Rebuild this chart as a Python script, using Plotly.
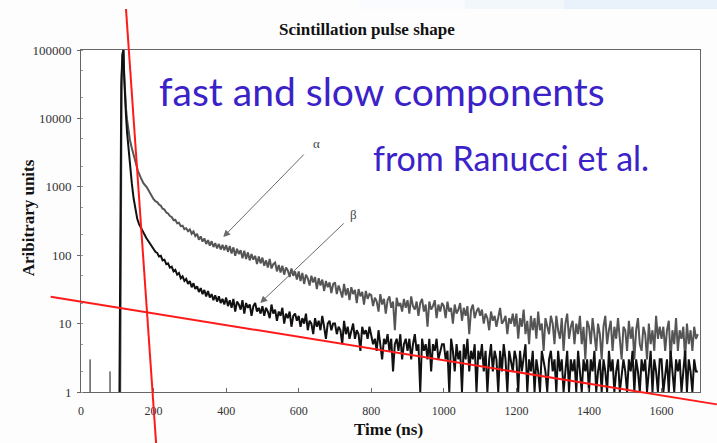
import math
import plotly.graph_objects as go

# ---------------- data ----------------
# time axis in ns, values in arbitrary units (log scale)
PRE_SPIKE_T = [25, 80]
PRE_SPIKE_V = [3, 2]

ALPHA_EARLY_T = [108, 112, 115, 117, 119, 121, 124, 127, 131, 135, 140, 145, 150, 157, 165, 172, 181, 190, 195]
ALPHA_EARLY_V = [1, 40000, 90000, 100000, 45000, 24000, 14000, 9500, 6500, 4800, 3700, 2900, 2300, 1700,
                 1350, 1130, 990, 800, 720]

BETA_EARLY_T = [106, 111, 114, 117, 119, 121, 124, 127, 131, 135, 140, 145, 150, 155, 160, 165, 172, 180, 190, 195]
BETA_EARLY_V = [1, 30000, 85000, 100000, 40000, 19000, 11000, 6200, 3400, 2100, 1130, 680, 440, 340,
                285, 250, 210, 178, 148, 134]

TAIL_T = list(range(200, 1701, 5))

ALPHA_TAIL = [
    660, 615, 598, 552, 528, 478, 466, 421, 408, 374, 362, 326, 328, 292, 298, 266, 270, 240, 248, 224,
    238, 206, 222, 190, 205, 168, 188, 158, 176, 146, 166, 138, 160, 132, 150, 126, 146, 121, 142, 118,
    140, 112, 136, 106, 130, 98, 124, 104, 118, 90, 116, 88, 110, 84, 104, 86, 98, 74, 96, 76,
    92, 70, 84, 66, 88, 64, 74, 78, 58, 72, 56, 70, 52, 66, 60, 48, 64, 50, 58, 44,
    58, 42, 55, 38, 52, 46, 36, 50, 40, 48, 32, 46, 36, 44, 30, 42, 34, 40, 28, 38,
    40, 27, 36, 30, 24, 38, 26, 33, 22, 34, 27, 31, 20, 32, 25, 29, 19, 30, 23, 27,
    26, 18, 24, 21, 15, 27, 19, 23, 14, 22, 25, 17, 21, 8, 24, 18, 20, 15, 23, 17,
    22, 14, 25, 18, 16, 21, 13, 20, 23, 15, 19, 9, 21, 16, 18, 22, 12, 19, 15, 20,
    18, 12, 21, 15, 17, 10, 19, 14, 16, 20, 11, 17, 13, 18, 7, 16, 19, 12, 15, 17,
    13, 16, 10, 14, 12, 8, 15, 11, 13, 9, 12, 17, 10, 11, 13, 7, 12, 10, 14, 9,
    14, 6, 12, 9, 16, 7, 11, 5, 13, 8, 12, 6, 15, 8, 10, 4, 12, 9, 7, 13,
    10, 5, 13, 8, 6, 12, 4, 10, 14, 6, 9, 11, 5, 10, 7, 13, 5, 9, 3, 11,
    9, 5, 12, 7, 4, 10, 7, 3, 9, 13, 5, 8, 11, 4, 9, 6, 12, 6, 3, 9,
    8, 4, 11, 6, 9, 3, 8, 12, 5, 4, 9, 7, 3, 10, 5, 8, 4, 13, 6, 9,
    6, 9, 4, 8, 11, 3, 8, 5, 12, 4, 8, 6, 9, 3, 10, 5, 8, 4, 9, 6,
    7,
]

BETA_TAIL = [
    124, 112, 108, 96, 98, 84, 86, 74, 76, 66, 68, 58, 61, 52, 55, 46, 49, 42, 45, 38,
    42, 34, 39, 32, 35, 29, 33, 27, 31, 25, 30, 24, 27, 22, 26, 21, 25, 20, 23, 19,
    24, 18, 22, 17, 23, 15, 21, 19, 16, 22, 14, 20, 17, 19, 13, 18, 20, 15, 17, 14,
    18, 13, 17, 15, 12, 19, 14, 16, 11, 15, 13, 17, 10, 14, 12, 15, 9, 13, 14, 11,
    13, 9, 12, 10, 14, 8, 11, 10, 7, 12, 9, 11, 8, 13, 9, 6, 10, 11, 8, 10,
    10, 7, 9, 8, 5, 11, 7, 9, 6, 8, 10, 6, 8, 7, 4, 9, 7, 8, 6, 9,
    7, 5, 6, 4, 8, 5, 3, 6, 5, 7, 4, 6, 2, 5, 6, 4, 7, 3, 5, 6,
    4, 6, 3, 5, 7, 4, 5, 1, 6, 4, 5, 3, 6, 2, 5, 4, 6, 3, 4, 5,
    5, 3, 4, 1, 6, 4, 2, 5, 3, 4, 1, 5, 3, 6, 2, 4, 3, 5, 1, 4,
    3, 5, 2, 4, 1, 3, 5, 2, 4, 3, 1, 4, 2, 5, 3, 1, 4, 3, 2, 4,
    3, 1, 4, 2, 3, 5, 1, 3, 2, 4, 1, 3, 2, 1, 4, 3, 2, 1, 3, 4,
    2, 3, 1, 4, 2, 3, 1, 2, 4, 1, 3, 2, 3, 1, 4, 2, 1, 3, 2, 3,
    1, 3, 2, 4, 1, 2, 3, 1, 3, 2, 1, 4, 2, 3, 1, 2, 3, 1, 2, 3,
    2, 1, 3, 2, 4, 1, 3, 2, 1, 3, 2, 3, 1, 2, 4, 1, 3, 2, 1, 3,
    3, 1, 2, 3, 1, 4, 2, 1, 3, 2, 3, 1, 2, 4, 1, 3, 2, 1, 3, 2,
    2,
]

X_TICKS = [0, 200, 400, 600, 800, 1000, 1200, 1400, 1600]
Y_TICKS = [1, 10, 100, 1000, 10000, 100000]
Y_TICK_TEXT = ["1", "10", "100", "1000", "10000", "100000"]

# arrow annotations: (tip time ns, tip value)
ALPHA_ARROW_TIP = (392, 184)
BETA_ARROW_TIP = (494, 20)
ALPHA_LABEL_POS = (650, 4230)
BETA_LABEL_POS = (750, 400)

# hand-drawn red guide lines, endpoints in (ns, value) data units
RED_FAST = [(124, 10 ** 5.6), (207, 10 ** -0.75)]
RED_SLOW = [(-83.5, 10 ** 1.393), (1752.6, 10 ** -0.181)]

X_RANGE = [0, 1706]
Y_RANGE_LOG = [0, 5]

TITLE = "Scintillation pulse shape"
X_TITLE = "Time (ns)"
Y_TITLE = "Aribitrary units"
OVERLAY_1 = "fast and slow components"
OVERLAY_2 = "from Ranucci et al."

SERIF = "Liberation Serif, Times New Roman, serif"
BLUE = "#3b22c8"

# ---------------- figure ----------------
fig = go.Figure()

fig.add_trace(go.Scatter(x=ALPHA_EARLY_T + TAIL_T, y=ALPHA_EARLY_V + ALPHA_TAIL, mode="lines",
                         line=dict(color="#555555", width=2),
                         hoverinfo="skip", showlegend=False, name="alpha"))

spike_x, spike_y = [], []
for t, v in zip(PRE_SPIKE_T, PRE_SPIKE_V):
    spike_x += [t, t, None]
    spike_y += [1, v, None]
fig.add_trace(go.Scatter(x=spike_x, y=spike_y, mode="lines",
                         line=dict(color="#111111", width=1),
                         hoverinfo="skip", showlegend=False))

fig.add_trace(go.Scatter(x=BETA_EARLY_T + TAIL_T, y=BETA_EARLY_V + BETA_TAIL, mode="lines",
                         line=dict(color="#111111", width=2),
                         hoverinfo="skip", showlegend=False, name="beta"))


def px(t):
    return (t - X_RANGE[0]) / (X_RANGE[1] - X_RANGE[0])


def py(v):
    return (math.log10(v) - Y_RANGE_LOG[0]) / (Y_RANGE_LOG[1] - Y_RANGE_LOG[0])


shapes = []
# faint slide-background strip at the top
for x0, x1, col in [(0.45, 0.62, "#f9fbfe"), (0.62, 0.78, "#f2f7fc"), (0.78, 1.2, "#e9f2fb")]:
    shapes.append(dict(type="rect", xref="paper", yref="paper", x0=x0, x1=x1,
                       y0=py(10 ** 5.6), y1=1.3, fillcolor=col, line=dict(width=0), layer="below"))
for (t0, v0), (t1, v1) in [RED_FAST, RED_SLOW]:
    shapes.append(dict(type="line", xref="paper", yref="paper",
                       x0=px(t0), y0=py(v0), x1=px(t1), y1=py(v1),
                       line=dict(color="#ff1a1a", width=2)))

annotations = [
    dict(text=f"<b>{TITLE}</b>", xref="paper", yref="paper", x=0.462, y=1.0614,
         xanchor="center", yanchor="middle",
         showarrow=False, font=dict(family=SERIF, size=17, color="#111")),
    dict(text=f"<b>{X_TITLE}</b>", xref="paper", yref="paper", x=0.496, y=-0.111,
         xanchor="center", yanchor="middle",
         showarrow=False, font=dict(family=SERIF, size=17, color="#111")),
    dict(text=f"<b>{Y_TITLE}</b>", xref="paper", yref="paper", x=-0.0856, y=0.508,
         xanchor="center", yanchor="middle",
         textangle=-90, showarrow=False, font=dict(family=SERIF, size=17, color="#111")),
    dict(text=OVERLAY_1, xref="paper", yref="paper", x=0.1228, y=0.880, xanchor="left",
         yanchor="middle", showarrow=False, font=dict(family="Lato", size=39, color=BLUE)),
    dict(text=OVERLAY_2, xref="paper", yref="paper", x=0.4685, y=0.687, xanchor="left",
         yanchor="middle", showarrow=False, font=dict(family="Lato", size=34, color=BLUE)),
    dict(text="", x=ALPHA_ARROW_TIP[0], y=math.log10(ALPHA_ARROW_TIP[1]), xref="x", yref="y",
         ax=82, ay=-84, showarrow=True, arrowhead=2, arrowsize=1.4, arrowwidth=1, arrowcolor="#6a6a6a"),
    dict(text="", x=BETA_ARROW_TIP[0], y=math.log10(BETA_ARROW_TIP[1]), xref="x", yref="y",
         ax=85, ay=-81, showarrow=True, arrowhead=2, arrowsize=1.4, arrowwidth=1, arrowcolor="#6a6a6a"),
    dict(text="α", x=ALPHA_LABEL_POS[0], y=math.log10(ALPHA_LABEL_POS[1]), xref="x", yref="y",
         xanchor="center", yanchor="middle",
         showarrow=False, font=dict(family=SERIF, size=13, color="#444")),
    dict(text="β", x=BETA_LABEL_POS[0], y=math.log10(BETA_LABEL_POS[1]), xref="x", yref="y",
         xanchor="center", yanchor="middle",
         showarrow=False, font=dict(family=SERIF, size=13, color="#444")),
]

fig.update_layout(
    width=717, height=443,
    margin=dict(l=81, r=17, t=50, b=51, pad=0),
    paper_bgcolor="#fdfdfd", plot_bgcolor="white",
    shapes=shapes, annotations=annotations,
    xaxis=dict(range=X_RANGE, tickvals=X_TICKS, ticks="inside", ticklen=4, tickcolor="#666",
               showline=True, linecolor="#666", linewidth=1, mirror=True, showgrid=False,
               zeroline=False, tickfont=dict(family=SERIF, size=12, color="#333"),
               ticklabelstandoff=8),
    yaxis=dict(type="log", range=Y_RANGE_LOG, tickvals=Y_TICKS, ticktext=Y_TICK_TEXT,
               ticks="outside", ticklen=3, tickcolor="#666", showline=True, linecolor="#666",
               linewidth=1, mirror=True, showgrid=False, zeroline=False,
               tickfont=dict(family=SERIF, size=13, color="#333"), ticklabelstandoff=3,
               minor=dict(ticks="inside", ticklen=2, tickcolor="#999", showgrid=False)),
)

# the page's default 8px body margin would shift the figure; remove it
fig.write_html("out.html", config={"displayModeBar": False},
               post_script="document.body.style.margin='0';document.body.style.overflow='hidden';")
